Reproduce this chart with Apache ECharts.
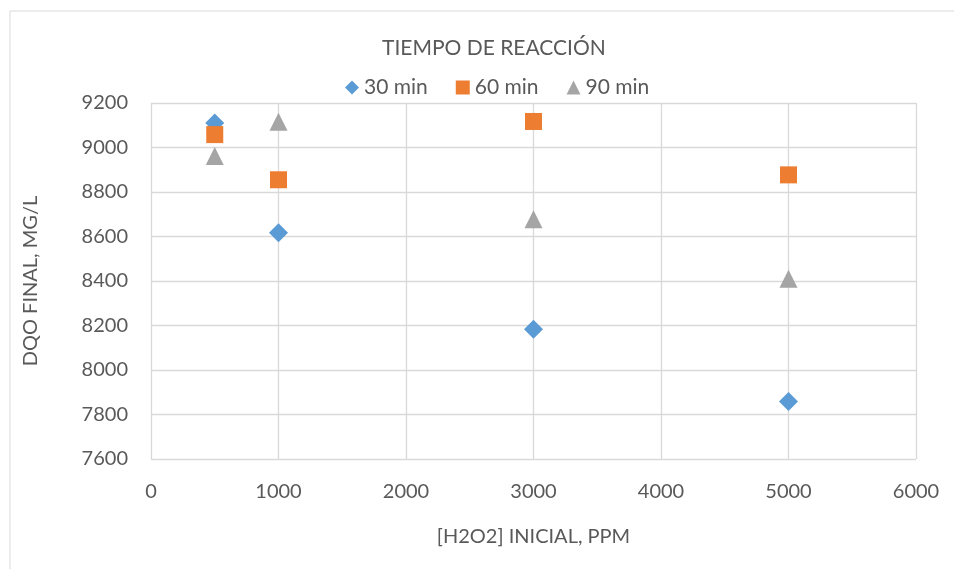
<!DOCTYPE html>
<html>
<head>
<meta charset="utf-8">
<script src="https://cdn.jsdelivr.net/npm/echarts@6/dist/echarts.min.js"></script>
<style>
html,body{margin:0;padding:0;background:#fff;}
#chart{width:954px;height:569px;}
</style>
</head>
<body>
<div id="chart"></div>
<script>
const titleText = "TIEMPO DE REACCIÓN";
const xAxisName = "[H2O2] INICIAL, PPM";
const yAxisName = "DQO FINAL, MG/L";
const seriesNames = ["30 min", "60 min", "90 min"];
const h2o2 = [500, 1000, 3000, 5000];
const dqo30 = [9110, 8617, 8183, 7858];
const dqo60 = [9058, 8855, 9117, 8877];
const dqo90 = [8962, 9116, 8677, 8410];

const colors = ["#5B9BD5", "#ED7D31", "#A5A5A5"];
const symbols = ["diamond", "rect", "triangle"];
const values = [dqo30, dqo60, dqo90];
const font = "Lato, 'Open Sans', sans-serif";

const chart = echarts.init(document.getElementById('chart'), null, {renderer: 'canvas'});
const series = seriesNames.map((name, i) => ({
  name: name,
  type: 'scatter',
  data: h2o2.map((x, j) => [x, values[i][j]]),
  symbol: symbols[i],
  symbolSize: i === 1 ? 17 : (i === 0 ? 19 : 18),
  itemStyle: {color: colors[i], opacity: 1},
  emphasis: {disabled: true},
  z: 2 + i
}));

chart.setOption({
  animation: false,
  backgroundColor: '#ffffff',
  textStyle: {fontFamily: font},
  title: {
    text: titleText,
    left: 377,
    top: 33,
    textStyle: {fontFamily: font, fontSize: 21, fontWeight: 'normal', color: '#595959'}
  },
  legend: {
    top: 72,
    left: 340,
    itemGap: 28,
    itemWidth: 14,
    itemHeight: 14,
    textStyle: {fontFamily: font, fontSize: 21, color: '#595959'},
    data: seriesNames.map((n, i) => ({name: n, icon: symbols[i], itemStyle: {color: colors[i]}}))
  },
  graphic: [
    {type: 'line', shape: {x1: 10, y1: 11, x2: 954, y2: 11}, style: {stroke: '#d9d9d9', lineWidth: 1}},
    {type: 'line', shape: {x1: 10, y1: 11, x2: 10, y2: 569}, style: {stroke: '#d9d9d9', lineWidth: 1}}
  ],
  grid: {left: 151, right: 38, top: 103, bottom: 110, containLabel: false},
  xAxis: {
    type: 'value',
    min: 0, max: 6000, interval: 1000,
    name: xAxisName,
    nameLocation: 'middle',
    nameGap: 68,
    nameTextStyle: {fontFamily: font, fontSize: 20, color: '#595959'},
    axisLine: {show: false},
    axisTick: {show: false},
    axisLabel: {fontFamily: font, fontSize: 20, color: '#595959', margin: 23, formatter: v => String(v)},
    splitLine: {show: true, lineStyle: {color: '#d9d9d9', width: 1.3}}
  },
  yAxis: {
    type: 'value',
    min: 7600, max: 9200, interval: 200,
    name: yAxisName,
    nameLocation: 'middle',
    nameGap: 110,
    nameTextStyle: {fontFamily: font, fontSize: 20, color: '#595959'},
    axisLine: {show: false},
    axisTick: {show: false},
    axisLabel: {fontFamily: font, fontSize: 20, color: '#595959', margin: 23, formatter: v => String(v)},
    splitLine: {show: true, lineStyle: {color: '#d9d9d9', width: 1.3}}
  },
  series: series
});
</script>
</body>
</html>
